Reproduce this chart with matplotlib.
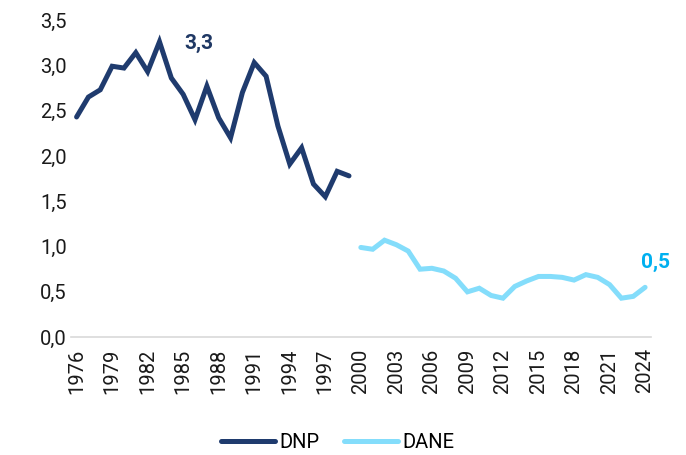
import matplotlib
matplotlib.use("Agg")
import matplotlib.pyplot as plt
from matplotlib.ticker import FuncFormatter

plt.rcParams['font.family'] = ['Roboto', 'DejaVu Sans']

years_dnp = list(range(1976, 2000))
dnp = [2.43, 2.65, 2.73, 2.99, 2.97, 3.14, 2.93, 3.26, 2.86, 2.68, 2.40, 2.77,
       2.42, 2.20, 2.70, 3.03, 2.88, 2.33, 1.91, 2.09, 1.69, 1.55, 1.83, 1.78]

years_dane = list(range(2000, 2025))
dane = [0.99, 0.97, 1.07, 1.02, 0.95, 0.75, 0.76, 0.73, 0.65, 0.50, 0.54, 0.46,
        0.43, 0.56, 0.62, 0.67, 0.67, 0.66, 0.63, 0.69, 0.66, 0.58, 0.43, 0.45, 0.55]

xticks = list(range(1976, 2025, 3))
yticks = [0, 0.5, 1.0, 1.5, 2.0, 2.5, 3.0, 3.5]

c_dnp = '#1F3B6E'
c_dane = '#84DDFB'

fig = plt.figure(figsize=(6.86, 4.55), dpi=100)
ax = fig.add_axes([0.103, 0.259, 0.846, 0.697])

ax.plot(years_dnp, dnp, color=c_dnp, lw=3.6, label='DNP', solid_capstyle='round', solid_joinstyle='miter')
ax.plot(years_dane, dane, color=c_dane, lw=3.6, label='DANE', solid_capstyle='round', solid_joinstyle='miter')

ax.text(1986.3, 3.24, '3,3', color='#1F3864', fontsize=15, fontweight='bold', ha='center', va='center')
ax.text(2024.9, 0.82, '0,5', color='#00B0F0', fontsize=15, fontweight='bold', ha='center', va='center')

ax.set_xlim(1975.5, 2024.5)
ax.set_ylim(0, 3.5)
ax.set_xticks(xticks)
ax.set_xticklabels([str(y) for y in xticks], rotation=90)
ax.set_yticks(yticks)
ax.yaxis.set_major_formatter(FuncFormatter(lambda v, p: f"{v:.1f}".replace('.', ',')))
ax.tick_params(axis='both', length=0, labelsize=14.5, colors='#1a1a1a')
ax.tick_params(axis='y', pad=22)
ax.tick_params(axis='x', pad=8)
for lab in ax.get_yticklabels():
    lab.set_horizontalalignment('left')

for s in ['top', 'right', 'left']:
    ax.spines[s].set_visible(False)
ax.spines['bottom'].set_color('#D9D9D9')
ax.spines['bottom'].set_linewidth(1.2)

fig.legend(loc='center', bbox_to_anchor=(0.492, 0.027), ncol=2, frameon=False,
           fontsize=14.5, handlelength=2.7, handletextpad=0.2, columnspacing=1.2)

fig.savefig('out.png', dpi=100)
